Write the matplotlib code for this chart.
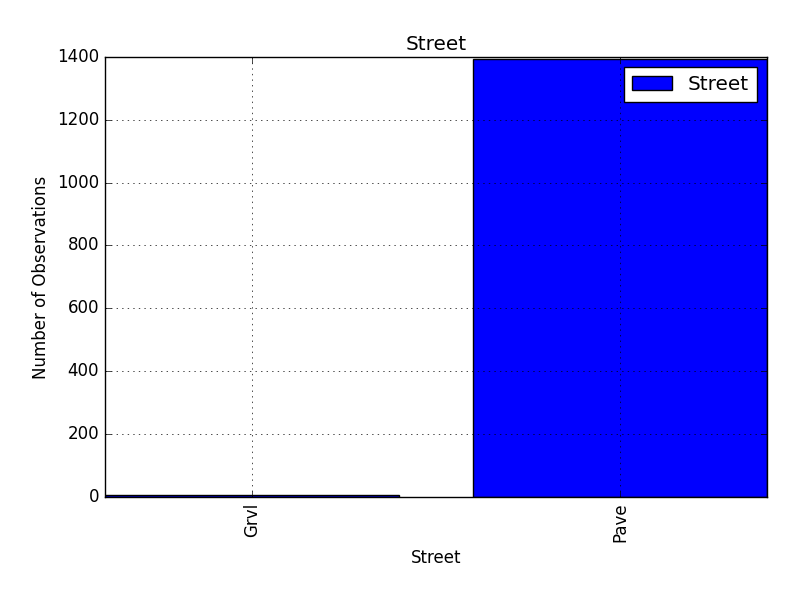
import matplotlib
matplotlib.use("Agg")
from matplotlib import pyplot as plt

plt.style.use('classic')

categories = ['Grvl', 'Pave']
counts = [6, 1394]

fig = plt.figure(figsize=(8, 6), dpi=100)
ax = fig.add_axes([0.131, 0.172, 0.828, 0.733])
ax.bar(range(len(categories)), counts, width=0.8, align='center', color='blue', label='Street')
ax.set_xlim(-0.4, 1.4)
ax.set_ylim(0, 1400)
ax.set_xticks(range(len(categories)))
ax.set_xticklabels(categories, rotation=90)
ax.grid(True)
ax.set_title('Street')
ax.set_xlabel('Street')
ax.set_ylabel('Number of Observations')
ax.legend(loc='upper right')
fig.savefig('out.png', dpi=100)
